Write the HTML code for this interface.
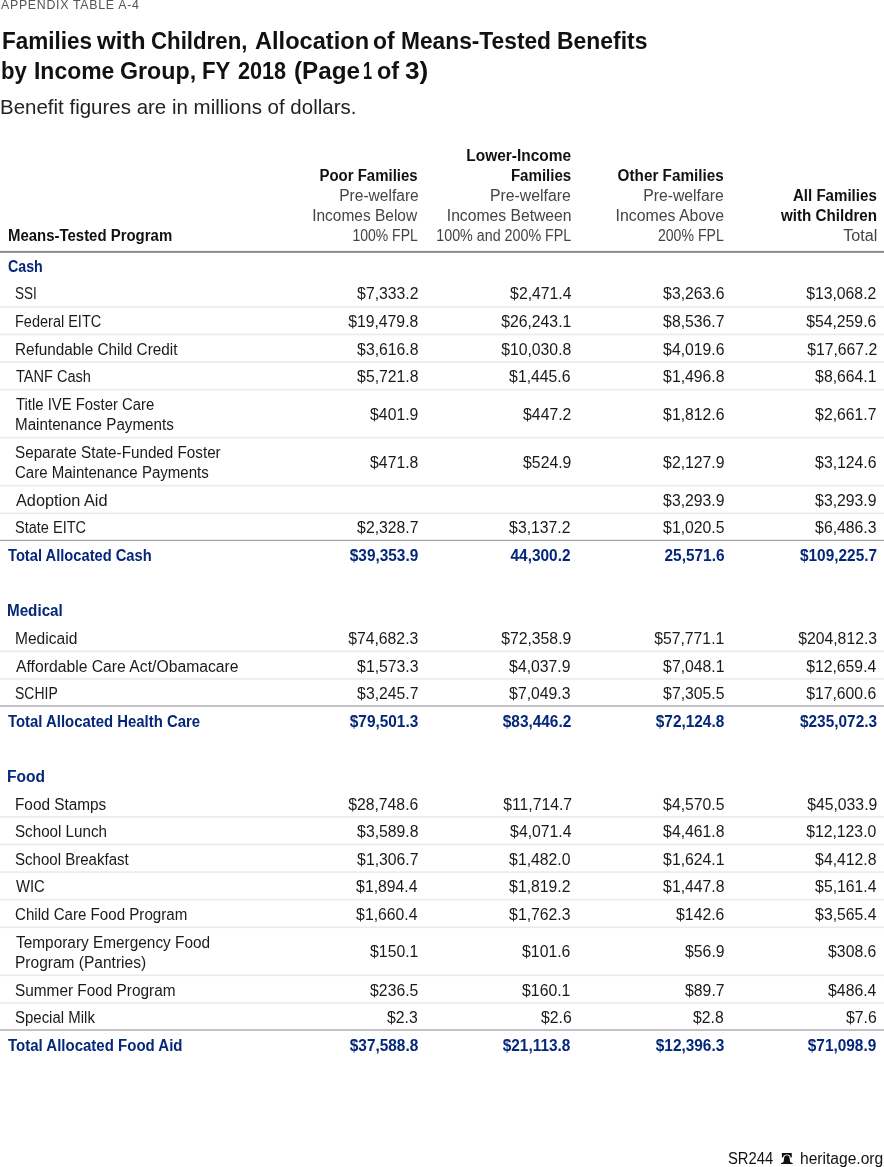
<!DOCTYPE html>
<html><head><meta charset="utf-8">
<title>Appendix Table A-4</title>
<style>
html,body{margin:0;padding:0;background:#fff}
body{width:884px;height:1167px;position:relative;overflow:hidden;font-family:"Liberation Sans",sans-serif}
.t{position:absolute;white-space:nowrap;line-height:1;display:block}
.L{transform-origin:0 0}
.R{transform-origin:100% 0}
.kicker{font-size:12.2px;font-weight:normal;color:#555;transform:scaleX(1.0);letter-spacing:0.7px}
.title{font-size:24.4px;font-weight:bold;color:#111;transform:scaleX(0.94)}
.sub{font-size:20.9px;font-weight:normal;color:#222;transform:scaleX(0.97)}
.hb{font-size:15.8px;font-weight:bold;color:#111;transform:scaleX(0.95)}
.hl{font-size:15.8px;font-weight:normal;color:#444;transform:scaleX(0.97)}
.lr{font-size:16.0px;font-weight:normal;color:#1a1a1a;transform:scaleX(0.96)}
.lb{font-size:16.0px;font-weight:bold;color:#05277a;transform:scaleX(0.93)}
.nr{font-size:15.8px;font-weight:normal;color:#1a1a1a;transform:scaleX(0.998)}
.nb{font-size:15.8px;font-weight:bold;color:#05277a;transform:scaleX(0.975)}
.ft{font-size:16.0px;font-weight:normal;color:#111;transform:scaleX(0.97)}
</style></head><body>
<div class="t L kicker" style="left:1.00px;top:-1px;transform:scaleX(1.0132)">APPENDIX TABLE A-4</div>
<div class="t L title" style="left:1.76px;top:29px;transform:scaleX(0.9236)">Families</div>
<div class="t L title" style="left:97.06px;top:29px;transform:scaleX(0.9939)">with</div>
<div class="t L title" style="left:150.56px;top:29px;transform:scaleX(0.9120)">Children,</div>
<div class="t L title" style="left:255.00px;top:29px;transform:scaleX(0.9675)">Allocation</div>
<div class="t L title" style="left:373.10px;top:29px;transform:scaleX(0.9377)">of</div>
<div class="t L title" style="left:400.54px;top:29px;transform:scaleX(0.9326)">Means-Tested</div>
<div class="t L title" style="left:557.17px;top:29px;transform:scaleX(0.9391)">Benefits</div>
<div class="t L title" style="left:1.32px;top:59px;transform:scaleX(0.9075)">by</div>
<div class="t L title" style="left:33.71px;top:59px;transform:scaleX(0.9407)">Income</div>
<div class="t L title" style="left:119.93px;top:59px;transform:scaleX(0.9519)">Group,</div>
<div class="t L title" style="left:202.10px;top:59px;transform:scaleX(0.9098)">FY</div>
<div class="t L title" style="left:238.40px;top:59px;transform:scaleX(0.8874)">2018</div>
<div class="t L title" style="left:293.54px;top:59px;transform:scaleX(0.9940)">(Page</div>
<div class="t L title" style="left:362.75px;top:59px;transform:scaleX(0.6681)">1</div>
<div class="t L title" style="left:377.41px;top:59px;transform:scaleX(0.9608)">of</div>
<div class="t L title" style="left:404.64px;top:59px;transform:scaleX(1.0744)">3)</div>
<div class="t L sub" style="left:0.48px;top:97px;transform:scaleX(0.9806)">Benefit figures are in millions of dollars.</div>
<div class="t L ft" style="left:728.16px;top:1151px;transform:scaleX(0.9243)">SR244</div>
<div class="t L ft" style="left:800.10px;top:1151px;transform:scaleX(0.9745)">heritage.org</div>
<div class="t L hb" style="left:7.88px;top:228px;transform:scaleX(0.9461)">Means-Tested Program</div>
<div class="t R hb" style="right:466.44px;top:168px;transform:scaleX(0.9468)">Poor Families</div>
<div class="t R hl" style="right:465.56px;top:188px;transform:scaleX(0.9853)">Pre-welfare</div>
<div class="t R hl" style="right:467.10px;top:208px;transform:scaleX(0.9797)">Incomes Below</div>
<div class="t R hl" style="right:466.15px;top:228px;transform:scaleX(0.8857)">100% FPL</div>
<div class="t R hb" style="right:312.92px;top:148px;transform:scaleX(0.9786)">Lower-Income</div>
<div class="t R hb" style="right:313.01px;top:168px;transform:scaleX(0.9539)">Families</div>
<div class="t R hl" style="right:313.16px;top:188px;transform:scaleX(1.0009)">Pre-welfare</div>
<div class="t R hl" style="right:312.47px;top:208px;transform:scaleX(0.9938)">Incomes Between</div>
<div class="t R hl" style="right:313.05px;top:228px;transform:scaleX(0.9045)">100% and 200% FPL</div>
<div class="t R hb" style="right:160.34px;top:168px;transform:scaleX(0.9671)">Other Families</div>
<div class="t R hl" style="right:160.01px;top:188px;transform:scaleX(0.9977)">Pre-welfare</div>
<div class="t R hl" style="right:160.26px;top:208px;transform:scaleX(1.0038)">Incomes Above</div>
<div class="t R hl" style="right:160.21px;top:228px;transform:scaleX(0.8928)">200% FPL</div>
<div class="t R hb" style="right:6.90px;top:188px;transform:scaleX(0.9557)">All Families</div>
<div class="t R hb" style="right:6.51px;top:208px;transform:scaleX(0.9609)">with Children</div>
<div class="t R hl" style="right:6.67px;top:228px;transform:scaleX(1.0223)">Total</div>
<div class="t L lb" style="left:7.68px;top:259px;transform:scaleX(0.8881)">Cash</div>
<div class="t L lr" style="left:14.66px;top:286px;transform:scaleX(0.8416)">SSI</div>
<div class="t R nr" style="right:465.88px;top:286px">$7,333.2</div>
<div class="t R nr" style="right:312.72px;top:286px">$2,471.4</div>
<div class="t R nr" style="right:159.88px;top:286px">$3,263.6</div>
<div class="t R nr" style="right:7.61px;top:286px">$13,068.2</div>
<div class="t L lr" style="left:14.88px;top:314px;transform:scaleX(0.9063)">Federal EITC</div>
<div class="t R nr" style="right:465.88px;top:314px">$19,479.8</div>
<div class="t R nr" style="right:313.22px;top:314px">$26,243.1</div>
<div class="t R nr" style="right:159.88px;top:314px">$8,536.7</div>
<div class="t R nr" style="right:7.61px;top:314px">$54,259.6</div>
<div class="t L lr" style="left:14.88px;top:342px;transform:scaleX(0.9559)">Refundable Child Credit</div>
<div class="t R nr" style="right:465.88px;top:342px">$3,616.8</div>
<div class="t R nr" style="right:313.22px;top:342px">$10,030.8</div>
<div class="t R nr" style="right:159.88px;top:342px">$4,019.6</div>
<div class="t R nr" style="right:7.05px;top:342px">$17,667.2</div>
<div class="t L lr" style="left:15.78px;top:369px;transform:scaleX(0.9094)">TANF Cash</div>
<div class="t R nr" style="right:465.88px;top:369px">$5,721.8</div>
<div class="t R nr" style="right:313.22px;top:369px">$1,445.6</div>
<div class="t R nr" style="right:159.88px;top:369px">$1,496.8</div>
<div class="t R nr" style="right:7.61px;top:369px">$8,664.1</div>
<div class="t L lr" style="left:15.78px;top:397px;transform:scaleX(0.9287)">Title IVE Foster Care</div>
<div class="t L lr" style="left:14.88px;top:417px;transform:scaleX(0.9500)">Maintenance Payments</div>
<div class="t R nr" style="right:465.88px;top:407px">$401.9</div>
<div class="t R nr" style="right:312.66px;top:407px">$447.2</div>
<div class="t R nr" style="right:159.88px;top:407px">$1,812.6</div>
<div class="t R nr" style="right:7.61px;top:407px">$2,661.7</div>
<div class="t L lr" style="left:14.69px;top:445px;transform:scaleX(0.9517)">Separate State-Funded Foster</div>
<div class="t L lr" style="left:14.67px;top:465px;transform:scaleX(0.9386)">Care Maintenance Payments</div>
<div class="t R nr" style="right:465.88px;top:455px">$471.8</div>
<div class="t R nr" style="right:312.63px;top:455px">$524.9</div>
<div class="t R nr" style="right:159.88px;top:455px">$2,127.9</div>
<div class="t R nr" style="right:7.61px;top:455px">$3,124.6</div>
<div class="t L lr" style="left:15.78px;top:493px;transform:scaleX(1.0176)">Adoption Aid</div>
<div class="t R nr" style="right:159.88px;top:493px">$3,293.9</div>
<div class="t R nr" style="right:7.61px;top:493px">$3,293.9</div>
<div class="t L lr" style="left:14.87px;top:520px;transform:scaleX(0.9083)">State EITC</div>
<div class="t R nr" style="right:465.88px;top:520px">$2,328.7</div>
<div class="t R nr" style="right:313.22px;top:520px">$3,137.2</div>
<div class="t R nr" style="right:159.88px;top:520px">$1,020.5</div>
<div class="t R nr" style="right:7.61px;top:520px">$6,486.3</div>
<div class="t L lb" style="left:8.00px;top:548px;transform:scaleX(0.9183)">Total Allocated Cash</div>
<div class="t R nb" style="right:465.88px;top:548px">$39,353.9</div>
<div class="t R nb" style="right:313.22px;top:548px">44,300.2</div>
<div class="t R nb" style="right:159.88px;top:548px">25,571.6</div>
<div class="t R nb" style="right:7.43px;top:548px">$109,225.7</div>
<div class="t L lb" style="left:7.10px;top:603px;transform:scaleX(0.9504)">Medical</div>
<div class="t L lr" style="left:14.88px;top:631px;transform:scaleX(0.9728)">Medicaid</div>
<div class="t R nr" style="right:465.88px;top:631px">$74,682.3</div>
<div class="t R nr" style="right:313.22px;top:631px">$72,358.9</div>
<div class="t R nr" style="right:159.88px;top:631px">$57,771.1</div>
<div class="t R nr" style="right:6.71px;top:631px">$204,812.3</div>
<div class="t L lr" style="left:15.78px;top:659px;transform:scaleX(0.9828)">Affordable Care Act/Obamacare</div>
<div class="t R nr" style="right:465.88px;top:659px">$1,573.3</div>
<div class="t R nr" style="right:313.22px;top:659px">$4,037.9</div>
<div class="t R nr" style="right:159.88px;top:659px">$7,048.1</div>
<div class="t R nr" style="right:7.61px;top:659px">$12,659.4</div>
<div class="t L lr" style="left:15.02px;top:686px;transform:scaleX(0.8732)">SCHIP</div>
<div class="t R nr" style="right:465.88px;top:686px">$3,245.7</div>
<div class="t R nr" style="right:313.22px;top:686px">$7,049.3</div>
<div class="t R nr" style="right:159.88px;top:686px">$7,305.5</div>
<div class="t R nr" style="right:7.61px;top:686px">$17,600.6</div>
<div class="t L lb" style="left:8.00px;top:714px;transform:scaleX(0.9310)">Total Allocated Health Care</div>
<div class="t R nb" style="right:465.88px;top:714px">$79,501.3</div>
<div class="t R nb" style="right:313.22px;top:714px">$83,446.2</div>
<div class="t R nb" style="right:159.88px;top:714px">$72,124.8</div>
<div class="t R nb" style="right:6.97px;top:714px">$235,072.3</div>
<div class="t L lb" style="left:7.10px;top:769px;transform:scaleX(0.9726)">Food</div>
<div class="t L lr" style="left:14.88px;top:797px;transform:scaleX(0.9591)">Food Stamps</div>
<div class="t R nr" style="right:465.88px;top:797px">$28,748.6</div>
<div class="t R nr" style="right:312.27px;top:797px">$11,714.7</div>
<div class="t R nr" style="right:159.88px;top:797px">$4,570.5</div>
<div class="t R nr" style="right:7.02px;top:797px">$45,033.9</div>
<div class="t L lr" style="left:14.96px;top:824px;transform:scaleX(0.9482)">School Lunch</div>
<div class="t R nr" style="right:465.88px;top:824px">$3,589.8</div>
<div class="t R nr" style="right:312.72px;top:824px">$4,071.4</div>
<div class="t R nr" style="right:159.88px;top:824px">$4,461.8</div>
<div class="t R nr" style="right:7.61px;top:824px">$12,123.0</div>
<div class="t L lr" style="left:14.73px;top:852px;transform:scaleX(0.9406)">School Breakfast</div>
<div class="t R nr" style="right:465.88px;top:852px">$1,306.7</div>
<div class="t R nr" style="right:313.22px;top:852px">$1,482.0</div>
<div class="t R nr" style="right:159.88px;top:852px">$1,624.1</div>
<div class="t R nr" style="right:7.61px;top:852px">$4,412.8</div>
<div class="t L lr" style="left:15.78px;top:879px;transform:scaleX(0.9264)">WIC</div>
<div class="t R nr" style="right:466.28px;top:879px">$1,894.4</div>
<div class="t R nr" style="right:313.22px;top:879px">$1,819.2</div>
<div class="t R nr" style="right:159.88px;top:879px">$1,447.8</div>
<div class="t R nr" style="right:7.11px;top:879px">$5,161.4</div>
<div class="t L lr" style="left:14.63px;top:907px;transform:scaleX(0.9448)">Child Care Food Program</div>
<div class="t R nr" style="right:466.32px;top:907px">$1,660.4</div>
<div class="t R nr" style="right:313.22px;top:907px">$1,762.3</div>
<div class="t R nr" style="right:159.88px;top:907px">$142.6</div>
<div class="t R nr" style="right:7.15px;top:907px">$3,565.4</div>
<div class="t L lr" style="left:15.78px;top:935px;transform:scaleX(0.9619)">Temporary Emergency Food</div>
<div class="t L lr" style="left:14.88px;top:955px;transform:scaleX(0.9699)">Program (Pantries)</div>
<div class="t R nr" style="right:465.88px;top:944px">$150.1</div>
<div class="t R nr" style="right:313.22px;top:944px">$101.6</div>
<div class="t R nr" style="right:159.88px;top:944px">$56.9</div>
<div class="t R nr" style="right:7.61px;top:944px">$308.6</div>
<div class="t L lr" style="left:14.65px;top:983px">Summer Food Program</div>
<div class="t R nr" style="right:465.88px;top:983px">$236.5</div>
<div class="t R nr" style="right:313.22px;top:983px">$160.1</div>
<div class="t R nr" style="right:159.88px;top:983px">$89.7</div>
<div class="t R nr" style="right:7.61px;top:983px">$486.4</div>
<div class="t L lr" style="left:14.87px;top:1010px;transform:scaleX(0.9356)">Special Milk</div>
<div class="t R nr" style="right:465.98px;top:1010px">$2.3</div>
<div class="t R nr" style="right:312.47px;top:1010px">$2.6</div>
<div class="t R nr" style="right:160.03px;top:1010px">$2.8</div>
<div class="t R nr" style="right:6.78px;top:1010px">$7.6</div>
<div class="t L lb" style="left:8.00px;top:1038px;transform:scaleX(0.9378)">Total Allocated Food Aid</div>
<div class="t R nb" style="right:465.88px;top:1038px">$37,588.8</div>
<div class="t R nb" style="right:313.22px;top:1038px">$21,113.8</div>
<div class="t R nb" style="right:159.88px;top:1038px">$12,396.3</div>
<div class="t R nb" style="right:7.61px;top:1038px">$71,098.9</div>
<svg style="position:absolute;left:0;top:0" width="884" height="1167" viewBox="0 0 884 1167">
<rect x="0" y="250.9" width="884" height="2" fill="#8c8c8c"/>
<rect x="0" y="306.10" width="884" height="1.6" fill="#ebeaeb"/>
<rect x="0" y="333.70" width="884" height="1.6" fill="#ebeaeb"/>
<rect x="0" y="361.30" width="884" height="1.6" fill="#ebeaeb"/>
<rect x="0" y="388.90" width="884" height="1.6" fill="#ebeaeb"/>
<rect x="0" y="436.90" width="884" height="1.6" fill="#ebeaeb"/>
<rect x="0" y="484.90" width="884" height="1.6" fill="#ebeaeb"/>
<rect x="0" y="512.50" width="884" height="1.6" fill="#ebeaeb"/>
<rect x="0" y="539.75" width="884" height="1.3" fill="#a3a4a9"/>
<rect x="0" y="650.50" width="884" height="1.6" fill="#ebeaeb"/>
<rect x="0" y="678.10" width="884" height="1.6" fill="#ebeaeb"/>
<rect x="0" y="705.35" width="884" height="1.3" fill="#a3a4a9"/>
<rect x="0" y="816.10" width="884" height="1.6" fill="#ebeaeb"/>
<rect x="0" y="843.70" width="884" height="1.6" fill="#ebeaeb"/>
<rect x="0" y="871.30" width="884" height="1.6" fill="#ebeaeb"/>
<rect x="0" y="898.90" width="884" height="1.6" fill="#ebeaeb"/>
<rect x="0" y="926.50" width="884" height="1.6" fill="#ebeaeb"/>
<rect x="0" y="974.50" width="884" height="1.6" fill="#ebeaeb"/>
<rect x="0" y="1002.10" width="884" height="1.6" fill="#ebeaeb"/>
<rect x="0" y="1029.35" width="884" height="1.3" fill="#a3a4a9"/>
</svg>
<svg style="position:absolute;left:781.1px;top:1152.7px" width="11.7" height="11.5" viewBox="0 0 11.7 11.5"><path fill="#111" d="M.9 0h9.900v4.500H9.700C9.400 2.600 8 1.500 5.850 1.500S2.300 2.600 2 4.500H.9z"/><path fill="#111" d="M5.850 2.300C4.200 2.300 3.300 3.300 3.100 5L2.700 8.200C2.600 9.100 2 9.600 0 10.100v1.400h11.700v-1.400C9.700 9.600 9.100 9.100 9 8.200L8.600 5C8.400 3.300 7.500 2.300 5.850 2.300z"/></svg>

</body></html>
